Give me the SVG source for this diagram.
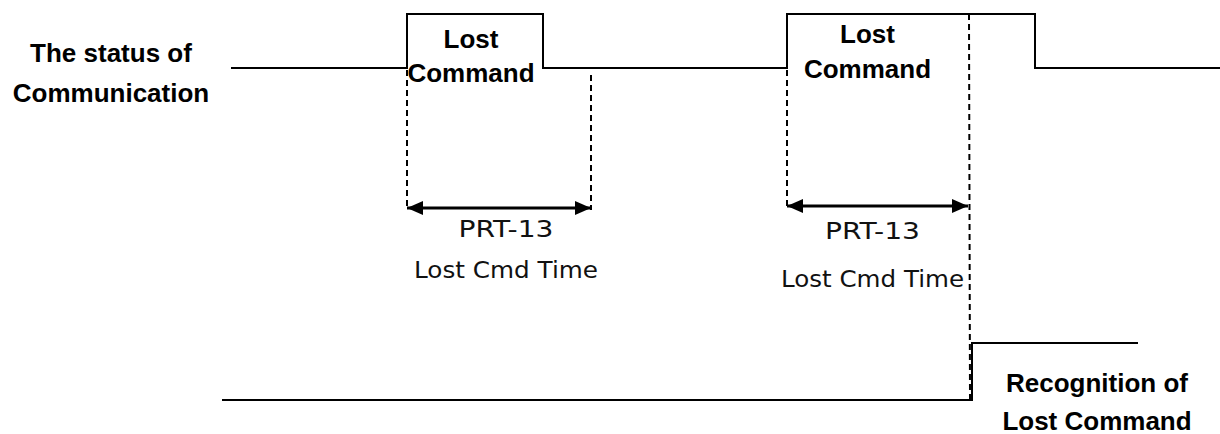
<svg xmlns="http://www.w3.org/2000/svg" width="1220" height="434" viewBox="0 0 1220 434">
<style>
.sig{fill:none;stroke:#000;stroke-width:2;stroke-linejoin:miter}
.dash{fill:none;stroke:#000;stroke-width:2;stroke-dasharray:6 4}
.arr{fill:none;stroke:#000;stroke-width:3}
.b{font-family:"Liberation Sans",Arial,sans-serif;font-weight:bold;font-size:26px;fill:#000;text-anchor:middle}
.r{font-family:"DejaVu Sans","Noto Sans",sans-serif;font-size:23.5px;fill:#111;text-anchor:middle}
</style>
<defs>
<marker id="ah" viewBox="0 0 16 14" refX="16" refY="7" markerWidth="16" markerHeight="14" markerUnits="userSpaceOnUse" orient="auto-start-reverse">
<path d="M0,0 L16,7 L0,14 Z" fill="#000"/>
</marker>
</defs>
<rect width="1220" height="434" fill="#fff"/>

<g id="status-label">
<text class="b" x="111" y="62">The status of</text>
<text class="b" x="111" y="102">Communication</text>
</g>

<g id="status-signal">
<polyline class="sig" points="231,68 407,68 407,14 543,14 543,68 787,68 787,14 1035,14 1035,68 1220,68"/>
</g>

<g id="pulse1-label">
<text class="b" x="471" y="48">Lost</text>
<text class="b" x="471" y="82">Command</text>
</g>

<g id="pulse2-label">
<text class="b" x="867.5" y="43">Lost</text>
<text class="b" x="867.5" y="78">Command</text>
</g>

<g id="recognition-signal">
<polyline class="sig" points="222,400 972,400 972,343 1138,343"/>
</g>

<g id="recognition-label">
<text class="b" x="1097" y="392">Recognition of</text>
<text class="b" x="1097" y="430">Lost Command</text>
</g>

<g id="time1-label">
<text class="r" x="506" y="237" textLength="95" lengthAdjust="spacingAndGlyphs">PRT-13</text>
<text class="r" x="506" y="278" textLength="184" lengthAdjust="spacingAndGlyphs">Lost Cmd Time</text>
</g>

<g id="time2-label">
<text class="r" x="872.5" y="239" textLength="95" lengthAdjust="spacingAndGlyphs">PRT-13</text>
<text class="r" x="872.5" y="287" textLength="183" lengthAdjust="spacingAndGlyphs">Lost Cmd Time</text>
</g>

<g id="connectors">
<line class="dash" x1="407" y1="70" x2="407" y2="210"/>
<line class="dash" x1="591" y1="75" x2="591" y2="210"/>
<line class="arr" x1="407" y1="208" x2="591" y2="208" marker-start="url(#ah)" marker-end="url(#ah)"/>
<line class="dash" x1="787" y1="70" x2="787" y2="208"/>
<line class="dash" x1="969" y1="14" x2="970" y2="400"/>
<line class="arr" x1="787" y1="206" x2="968" y2="206" marker-start="url(#ah)" marker-end="url(#ah)"/>
</g>
</svg>
